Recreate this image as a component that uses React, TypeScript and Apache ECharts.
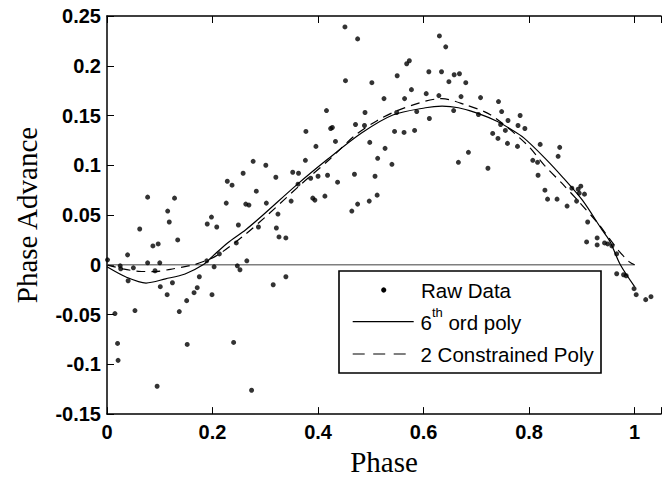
import React, { useEffect, useRef } from "react";
import * as echarts from "echarts";

// Raw data (phase, phase advance)
const rawPhase = [
  0.001, 0.015, 0.02, 0.021, 0.025, 0.026, 0.039, 0.04, 0.05, 0.053,
  0.062, 0.077, 0.077, 0.087, 0.097, 0.091, 0.1, 0.101, 0.095, 0.114,
  0.115, 0.118, 0.128, 0.124, 0.134, 0.137, 0.151, 0.152, 0.165, 0.171,
  0.175, 0.189, 0.19, 0.198, 0.199, 0.203, 0.208, 0.213, 0.226, 0.228,
  0.237, 0.24, 0.245, 0.247, 0.252, 0.249, 0.258, 0.263, 0.269, 0.265,
  0.274, 0.277, 0.283, 0.287, 0.301, 0.302, 0.315, 0.32, 0.321, 0.324,
  0.326, 0.339, 0.339, 0.349, 0.352, 0.363, 0.362, 0.376, 0.377, 0.386,
  0.39, 0.394, 0.396, 0.4, 0.413, 0.416, 0.418, 0.424, 0.427, 0.433,
  0.437, 0.451, 0.452, 0.464, 0.469, 0.471, 0.475, 0.475, 0.489, 0.488,
  0.497, 0.498, 0.502, 0.508, 0.512, 0.513, 0.525, 0.527, 0.54, 0.545,
  0.563, 0.55, 0.549, 0.564, 0.568, 0.573, 0.577, 0.587, 0.583, 0.605,
  0.61, 0.611, 0.63, 0.634, 0.629, 0.642, 0.648, 0.657, 0.658, 0.668,
  0.68, 0.671, 0.666, 0.685, 0.704, 0.708, 0.722, 0.742, 0.748, 0.731,
  0.741, 0.746, 0.755, 0.76, 0.759, 0.783, 0.779, 0.792, 0.778, 0.821,
  0.807, 0.816, 0.817, 0.858, 0.855, 0.83, 0.835, 0.853, 0.872, 0.881,
  0.893, 0.898, 0.895, 0.905, 0.89, 0.911, 0.909, 0.929, 0.929, 0.943,
  0.949, 0.957, 0.966, 0.966, 0.979, 0.984, 0.999, 1.003, 1.021, 1.031,
];
const rawAdvance = [
  0.005, -0.049, -0.079, -0.096, -0.001, -0.004, 0.01, -0.016, -0.003, -0.046,
  0.036, 0.068, 0.002, 0.019, 0.021, -0.006, 0.002, -0.022, -0.122, -0.03,
  0.054, 0.043, 0.067, -0.018, 0.025, -0.047, -0.036, -0.08, -0.028, -0.023,
  -0.012, 0.004, 0.041, 0.048, -0.03, -0.002, 0.038, 0.011, 0.062, 0.084,
  0.08, -0.078, 0.022, -0.001, -0.005, 0.04, 0.092, 0.061, 0.06, 0.004,
  -0.126, 0.104, 0.074, 0.038, 0.1, 0.062, -0.02, 0.088, 0.037, 0.051,
  0.028, 0.027, -0.012, 0.064, 0.093, 0.092, 0.081, 0.105, 0.134, 0.087,
  0.067, 0.065, 0.119, 0.089, 0.069, 0.155, 0.09, 0.137, 0.138, 0.124,
  0.083, 0.239, 0.185, 0.054, 0.091, 0.141, 0.061, 0.227, 0.153, 0.14,
  0.064, 0.123, 0.183, 0.089, 0.07, 0.107, 0.167, 0.117, 0.101, 0.134,
  0.133, 0.19, 0.153, 0.167, 0.202, 0.205, 0.176, 0.154, 0.135, 0.172,
  0.194, 0.147, 0.23, 0.194, 0.17, 0.219, 0.184, 0.155, 0.191, 0.192,
  0.183, 0.169, 0.103, 0.113, 0.151, 0.168, 0.097, 0.164, 0.154, 0.132,
  0.127, 0.141, 0.135, 0.145, 0.122, 0.15, 0.14, 0.137, 0.119, 0.121,
  0.105, 0.103, 0.09, 0.118, 0.109, 0.075, 0.066, 0.066, 0.059, 0.077,
  0.076, 0.079, 0.072, 0.071, 0.064, 0.043, 0.023, 0.027, 0.02, 0.022,
  0.021, 0.019, 0.011, -0.009, -0.01, -0.011, -0.024, -0.03, -0.035, -0.032,
];

// 6th order polynomial fit
const polyPhase = [
  0, 0.037, 0.074, 0.111, 0.148, 0.182, 0.2, 0.2285, 0.263, 0.2935, 0.3617,
  0.418, 0.4824, 0.5418, 0.6037, 0.635, 0.666, 0.703, 0.74, 0.767, 0.79,
  0.829, 0.8638, 0.901, 0.938, 0.953, 0.973, 1.0,
];
const polyAdvance = [
  -0.002, -0.0125, -0.0183, -0.0141, -0.0092, 0, 0.0085, 0.022, 0.0353, 0.049, 0.0813,
  0.106, 0.1324, 0.1505, 0.1578, 0.1594, 0.1578, 0.1522, 0.144, 0.1357, 0.1275,
  0.1077, 0.0879, 0.0649, 0.0353, 0.0237, 0, -0.022,
];

// Two constrained polynomials
const constrPhase = [
  0, 0.03, 0.06, 0.09, 0.12, 0.15, 0.165, 0.2, 0.22, 0.263, 0.3, 0.37,
  0.42, 0.47, 0.511, 0.56, 0.6347, 0.678, 0.7276, 0.7957, 0.829, 0.8638,
  0.8948, 0.93, 0.95, 0.97, 0.99, 1.0,
];
const constrAdvance = [
  0, -0.004, -0.0065, -0.0068, -0.0045, -0.0015, 0, 0.007, 0.0135, 0.031, 0.048, 0.082,
  0.105, 0.13, 0.1446, 0.157, 0.167, 0.161, 0.1505, 0.1209, 0.1, 0.081,
  0.0632, 0.042, 0.028, 0.014, 0.003, 0,
];

const zeroPhase = [0, 1];
const zeroAdvance = [0, 0];

const xTickLabels = ["0", "0.2", "0.4", "0.6", "0.8", "1"];
const legendLabels = ["Raw Data", "6{sup|th} ord poly", "2 Constrained Poly"];

const zip = (a: number[], b: number[]) => a.map((v, i) => [v, b[i]]);

export default function App() {
  const ref = useRef<HTMLDivElement>(null);
  useEffect(() => {
    if (!ref.current) return;
    const chart = echarts.init(ref.current, undefined, { renderer: "svg" });
    const tickFont = {
      fontFamily: "Liberation Sans, Arial, sans-serif",
      fontWeight: "bold" as const,
      fontSize: 20,
      color: "#000",
    };
    const xFormatter = (v: number) => {
      const k = Math.round(v / 0.2);
      if (Math.abs(v - k * 0.2) > 1e-6) return "";
      return xTickLabels[k] ?? "";
    };
    const legendFont = "20.5px 'Liberation Sans', Arial, sans-serif";
    const nameStyle = { fontFamily: "Liberation Serif, Times New Roman, serif", fontSize: 29, color: "#000" };
    chart.setOption({
      animation: false,
      backgroundColor: "#fff",
      grid: { left: 107, right: -8, top: 16, bottom: 60.5, containLabel: false },
      xAxis: [
        {
          type: "value",
          min: 0,
          max: 1.05,
          interval: 0.2,
          name: "Phase",
          nameLocation: "middle",
          nameGap: 28,
          nameTextStyle: nameStyle,
          axisLine: { show: true, onZero: false, lineStyle: { color: "#000", width: 1.5 } },
          axisTick: { show: true, inside: true, length: 7, lineStyle: { color: "#000", width: 1 } },
          axisLabel: { ...tickFont, margin: 8, formatter: xFormatter },
          splitLine: { show: false },
        },
        {
          type: "value",
          position: "top",
          min: 0,
          max: 1.05,
          interval: 0.2,
          axisLine: { show: true, onZero: false, lineStyle: { color: "#000", width: 1.5 } },
          axisTick: { show: true, inside: true, length: 7, lineStyle: { color: "#000", width: 1 } },
          axisLabel: { show: false },
          splitLine: { show: false },
        },
      ],
      yAxis: {
        type: "value",
        min: -0.15,
        max: 0.25,
        interval: 0.05,
        name: "Phase Advance",
        nameLocation: "middle",
        nameGap: 66,
        nameTextStyle: nameStyle,
        axisLine: { show: true, onZero: false, lineStyle: { color: "#000", width: 1.5 } },
        axisTick: { show: true, inside: true, length: 7, lineStyle: { color: "#000", width: 1 } },
        axisLabel: { ...tickFont, margin: 6 },
        splitLine: { show: false },
      },
      series: [
        {
          name: "zero",
          type: "line",
          data: zip(zeroPhase, zeroAdvance),
          symbol: "none",
          lineStyle: { color: "#7f7f7f", width: 1.5 },
          silent: true,
          z: 1,
        },
        {
          name: "Raw Data",
          type: "scatter",
          data: zip(rawPhase, rawAdvance),
          symbol: "circle",
          symbolSize: 5,
          itemStyle: { color: "#000" },
          z: 3,
        },
        {
          name: "6th ord poly",
          type: "line",
          data: zip(polyPhase, polyAdvance),
          symbol: "none",
          smooth: 0.3,
          lineStyle: { color: "#000", width: 1.2 },
          z: 2,
        },
        {
          name: "2 Constrained Poly",
          type: "line",
          data: zip(constrPhase, constrAdvance),
          symbol: "none",
          smooth: 0.3,
          lineStyle: { color: "#000", width: 1.2, type: [9, 6] },
          z: 2,
        },
      ],
      graphic: [
        {
          type: "group",
          z: 100,
          children: [
            {
              type: "rect",
              shape: { x: 339, y: 271, width: 262, height: 102 },
              style: { fill: "#fff", stroke: "#000", lineWidth: 1.6 },
            },
            {
              type: "circle",
              shape: { cx: 383.7, cy: 290, r: 2.6 },
              style: { fill: "#000" },
            },
            {
              type: "text",
              x: 421,
              y: 290.3,
              style: { text: legendLabels[0], font: legendFont, fill: "#000", verticalAlign: "middle", align: "left" },
            },
            {
              type: "line",
              shape: { x1: 352.7, y1: 321.7, x2: 413.7, y2: 321.7 },
              style: { stroke: "#000", lineWidth: 1.2 },
            },
            {
              type: "text",
              x: 420.5,
              y: 322,
              style: {
                text: legendLabels[1],
                font: legendFont,
                fill: "#000",
                verticalAlign: "middle",
                align: "left",
                lineHeight: 32,
                rich: {
                  sup: { fontSize: 13, fontFamily: "Liberation Sans, Arial, sans-serif", lineHeight: 14, verticalAlign: "top" },
                },
              },
            },
            {
              type: "line",
              shape: { x1: 352.7, y1: 354, x2: 413.7, y2: 354 },
              style: { stroke: "#000", lineWidth: 1.2, lineDash: [12, 8.5] },
            },
            {
              type: "text",
              x: 420.5,
              y: 354.8,
              style: { text: legendLabels[2], font: legendFont, fill: "#000", verticalAlign: "middle", align: "left" },
            },
          ],
        },
      ],
    });
    return () => chart.dispose();
  }, []);
  return (
    <div
      ref={ref}
      style={{ position: "fixed", left: 0, top: 0, width: 664, height: 481, background: "#fff" }}
    />
  );
}
